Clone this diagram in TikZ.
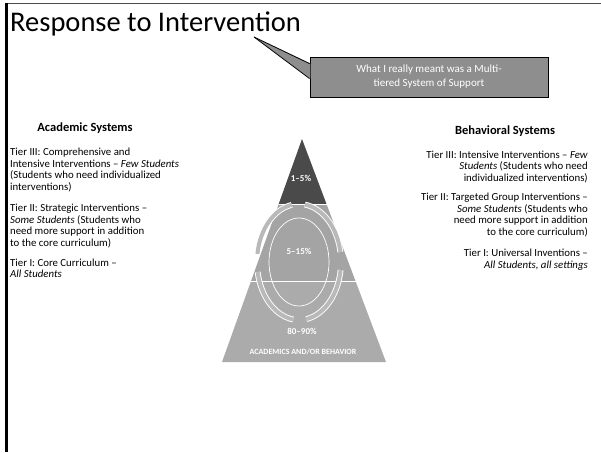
\documentclass[tikz,border=0pt]{standalone}
\usepackage{fontspec}
\setmainfont{Carlito}
\usetikzlibrary{positioning,calc,arrows.meta}

\definecolor{tierdark}{HTML}{4A4A4A}
\definecolor{tiermid}{HTML}{A4A4A4}
\definecolor{tierlow}{HTML}{ABABAB}
\definecolor{notegray}{HTML}{8E8E8E}

\begin{document}
\begin{tikzpicture}[
    x=1pt, y=-1pt, % pixel-like grid, y runs down
    heading/.style={font=\fontsize{12.5}{14}\selectfont\bfseries, anchor=base, inner sep=0pt},
    % multi-line nodes sit on the baseline of their last line
    tierleft/.style={font=\fontsize{10.8}{11.5}\selectfont, align=left, anchor=base west, inner sep=0pt},
    tierright/.style={font=\fontsize{10.8}{11.5}\selectfont, align=right, anchor=base east, inner sep=0pt},
    pct/.style={text=white, font=\fontsize{9}{10}\selectfont\bfseries, inner sep=0pt},
    note/.style={rectangle, draw=black, line width=0.8pt, fill=notegray, text=white, align=center,
        minimum width=238pt, minimum height=40pt, font=\fontsize{11}{14}\selectfont},
    ringarrow/.style={draw=white, double=gray!55, double distance=4pt, line width=0.9pt}
]
    \useasboundingbox (0,0) rectangle (601,452);

    % Frame
    \draw[line width=1pt, gray!60!black] (5,3.5) -- (601,3.5);
    \draw[line width=3pt] (6.5,3) -- (6.5,452);

    % Title and note
    \node[anchor=base west, font=\fontsize{28.5}{30}\selectfont, inner sep=0pt] (title) at (10,32) {Response to Intervention};
    \node[note] (callout) at (429,77) {What I really meant was a Multi-\\tiered System of Support};
    \coordinate (tip) at (254,37);
    \fill[notegray] (tip) -- ($(callout.north west)+(0.8,7)$) -- ($(callout.north west)+(0.8,22)$) -- cycle;
    \draw[line width=0.8pt] (tip) -- ($(callout.north west)+(0,7)$);
    \draw[line width=0.8pt] (tip) -- ($(callout.north west)+(0,22)$);

    % Academic side
    \node[heading] (acad) at (85,131) {Academic Systems};
    \node[tierleft] (acad3) at (10,190) {Tier III: Comprehensive and\\Intensive Interventions -- \textit{Few Students}\\(Students who need individualized\\interventions)};
    \node[tierleft] (acad2) at (10,246) {Tier II: Strategic Interventions --\\\textit{Some Students} (Students who\\need more support in addition\\to the core curriculum)};
    \node[tierleft] (acad1) at (10,277.5) {Tier I: Core Curriculum --\\\textit{All Students}};

    % Behavioral side
    \node[heading] (behav) at (505,134) {Behavioral Systems};
    \node[tierright] (behav3) at (588,181) {Tier III: Intensive Interventions -- \textit{Few}\\\textit{Students} (Students who need\\individualized interventions)};
    \node[tierright] (behav2) at (588,235) {Tier II: Targeted Group Interventions --\\\textit{Some Students} (Students who\\need more support in addition\\to the core curriculum)};
    \node[tierright] (behav1) at (588,268) {Tier I: Universal Inventions --\\\textit{All Students, all settings}};

    % Pyramid
    \coordinate (apex) at (302,139);
    \coordinate (bl) at (222,362);
    \coordinate (br) at (386,362);
    \coordinate (t1l) at ($(apex)!0.293!(bl)$);
    \coordinate (t1r) at ($(apex)!0.293!(br)$);
    \coordinate (t2l) at ($(apex)!0.64!(bl)$);
    \coordinate (t2r) at ($(apex)!0.64!(br)$);
    \fill[tierdark] (apex) -- (t1r) -- (t1l) -- cycle;
    \fill[tiermid] (t1l) -- (t1r) -- (t2r) -- (t2l) -- cycle;
    \fill[tierlow] (t2l) -- (t2r) -- (br) -- (bl) -- cycle;
    \draw[white, line width=1pt] (t1l) -- (t1r);
    \draw[white, line width=1.2pt] (t2l) -- (t2r);

    % Cycle in the middle tier
    \coordinate (ring) at (299,262);
    \foreach \a in {10,100,190,280}{
        \draw[ringarrow] ([shift={(\a:42pt and 58pt)}]ring) arc[start angle=\a, end angle=\a+72, x radius=42pt, y radius=58pt];
    }
    \draw[white, line width=0.7pt] (ring) ellipse[x radius=30pt, y radius=44pt];

    % Tier labels
    \node[pct] (few) at (301,178) {1--5\%};
    \node[pct] (some) at (299,251) {5--15\%};
    \node[pct] (all) at (302,331) {80--90\%};
    \node[pct, font=\fontsize{8}{9}\selectfont\bfseries] (scope) at (303,352) {ACADEMICS AND/OR BEHAVIOR};
\end{tikzpicture}
\end{document}
